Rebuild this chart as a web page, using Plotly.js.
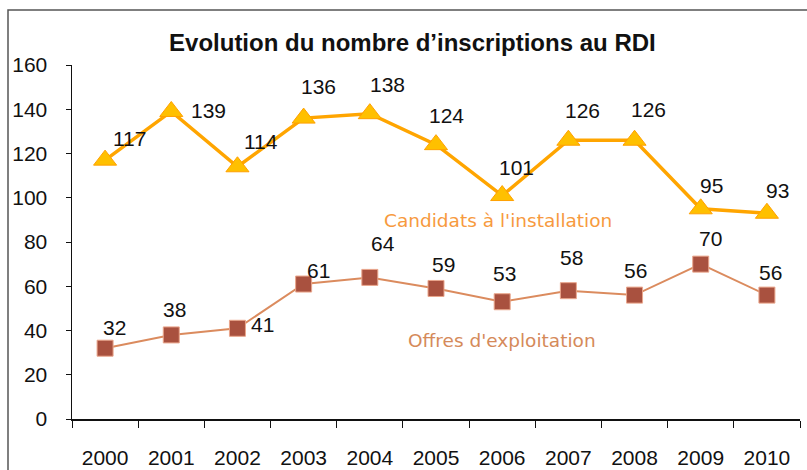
<!DOCTYPE html>
<html>
<head>
<meta charset="utf-8">
<script src="https://cdn.plot.ly/plotly-3.0.1.min.js"></script>
<style>
html,body{margin:0;padding:0;background:#fff;}
#chart{width:807px;height:470px;}
</style>
</head>
<body>
<div id="chart"></div>
<script>
const years = ["2000","2001","2002","2003","2004","2005","2006","2007","2008","2009","2010"];
const candidats = [117,139,114,136,138,124,101,126,126,95,93];
const offres = [32,38,41,61,64,59,53,58,56,70,56];
const seriesNames = ["Candidats à l'installation","Offres d'exploitation"];

// label offsets in pixels (dx, dy) relative to each point
const candOffsets = [[24,-22],[37,-1],[24,-25],[15,-32],[18,-29],[10,-29],[14,-28],[14,-30],[14,-31],[11,-23],[11,-23]];
const offOffsets = [[9,-21],[3,-25],[25,-4],[15,-14],[13,-34],[7,-24],[2,-28],[3,-33],[1,-25],[10,-26],[4,-23]];

const FONT = 'Liberation Sans, Arial, sans-serif';

const traces = [
  {
    x: years, y: candidats, type: 'scatter', mode: 'lines+markers',
    name: seriesNames[0],
    line: {color: '#FFA500', width: 3.5},
    marker: {symbol: 'triangle-up', size: 20, color: '#FFC000', line: {color: '#FFA000', width: 1}},
    cliponaxis: false
  },
  {
    x: years, y: offres, type: 'scatter', mode: 'lines+markers',
    name: seriesNames[1],
    line: {color: '#DB8B5E', width: 2},
    marker: {symbol: 'square', size: 16, color: '#A9513F', line: {color: '#EAA68C', width: 1}},
    cliponaxis: false
  }
];

const annotations = [];
candidats.forEach((v, i) => {
  annotations.push({x: i, y: v, xref: 'x', yref: 'y', text: String(v), showarrow: false,
    xshift: candOffsets[i][0], yshift: -candOffsets[i][1],
    font: {family: FONT, size: 21, color: '#111'}});
});
offres.forEach((v, i) => {
  annotations.push({x: i, y: v, xref: 'x', yref: 'y', text: String(v), showarrow: false,
    xshift: offOffsets[i][0], yshift: -offOffsets[i][1],
    font: {family: FONT, size: 21, color: '#111'}});
});
annotations.push({x: 5.93, y: 89.9, xref: 'x', yref: 'y', text: seriesNames[0], showarrow: false,
  font: {family: 'DejaVu Sans, Verdana, sans-serif', size: 18.5, color: '#F79A3E'}});
annotations.push({x: 6.0, y: 35.3, xref: 'x', yref: 'y', text: seriesNames[1], showarrow: false,
  font: {family: 'DejaVu Sans, Verdana, sans-serif', size: 18.5, color: '#D58A5A'}});

const layout = {
  width: 807, height: 470,
  margin: {l: 72, r: 7, t: 65, b: 51},
  paper_bgcolor: '#fff', plot_bgcolor: '#fff',
  showlegend: false,
  title: {text: '<b>Evolution du nombre d’inscriptions au RDI</b>', x: 0.511, xanchor: 'center', y: 0.91, yanchor: 'middle',
    font: {family: FONT, size: 24, color: '#111'}},
  xaxis: {
    type: 'category', range: [-0.5, 10.5], tickson: 'boundaries',
    showline: true, linecolor: '#111', linewidth: 1.5,
    ticks: 'outside', ticklen: 7, tickcolor: '#111', tickwidth: 1,
    showgrid: false, zeroline: false, ticklabelstandoff: 19,
    tickfont: {family: FONT, size: 21, color: '#111'}
  },
  yaxis: {
    range: [0, 160], dtick: 20, tick0: 0,
    showline: true, linecolor: '#111', linewidth: 1.5,
    ticks: 'outside', ticklen: 5, tickcolor: '#111', tickwidth: 1,
    showgrid: false, zeroline: false, ticklabelstandoff: 14,
    tickfont: {family: FONT, size: 21, color: '#111'}
  },
  annotations: annotations,
  shapes: [{
    type: 'rect', xref: 'paper', yref: 'paper',
    x0: (8 - 72) / 728, x1: (830 - 72) / 728,
    y0: (419 - 490) / 354, y1: (419 - 10) / 354,
    line: {color: '#555', width: 1.5}, fillcolor: 'rgba(0,0,0,0)', layer: 'below'
  }]
};

Plotly.newPlot('chart', traces, layout, {displayModeBar: false, staticPlot: true});
</script>
</body>
</html>
